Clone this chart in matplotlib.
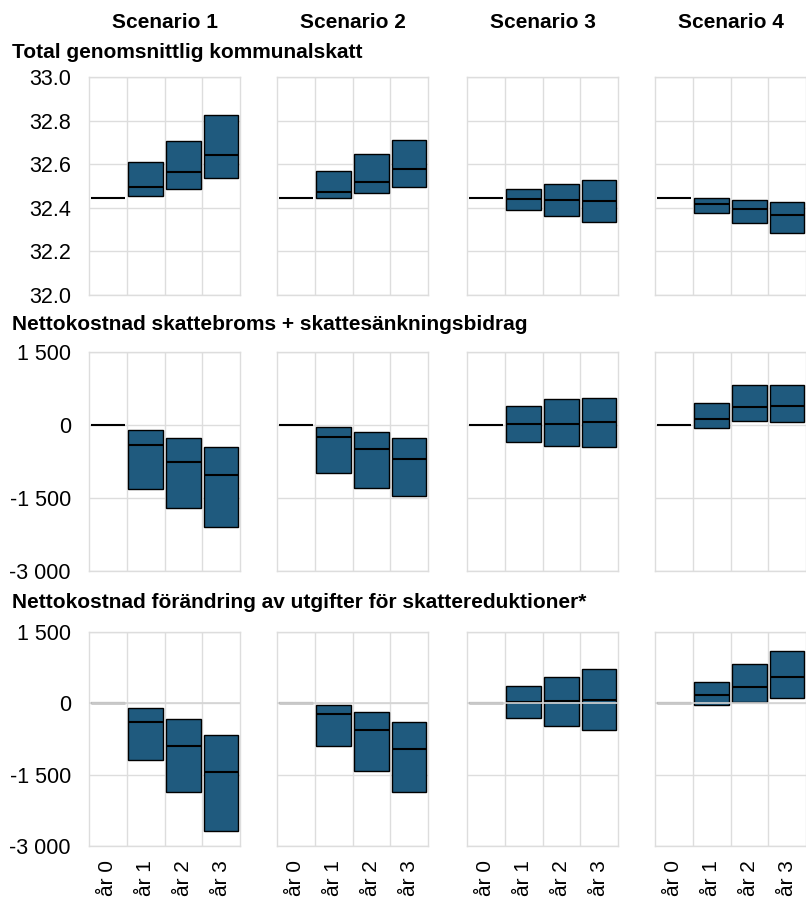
import numpy as np
import matplotlib
matplotlib.use("Agg")
import matplotlib.pyplot as plt

plt.rcParams['font.family'] = ['Liberation Sans', 'DejaVu Sans']

scenarios = ["Scenario 1", "Scenario 2", "Scenario 3", "Scenario 4"]
years = ["år 0", "år 1", "år 2", "år 3"]
row_titles = ["Total genomsnittlig kommunalskatt",
              "Nettokostnad skattebroms + skattesänkningsbidrag",
              "Nettokostnad förändring av utgifter för skattereduktioner*"]

# kommunalskatt: low / median / high per scenario, år 0..3
skatt_low = [[32.444, 32.455, 32.486, 32.535],
             [32.444, 32.447, 32.466, 32.495],
             [32.444, 32.390, 32.362, 32.333],
             [32.444, 32.378, 32.329, 32.286]]
skatt_med = [[32.444, 32.494, 32.564, 32.642],
             [32.444, 32.474, 32.518, 32.577],
             [32.444, 32.439, 32.436, 32.430],
             [32.444, 32.419, 32.393, 32.366]]
skatt_high = [[32.444, 32.610, 32.708, 32.826],
              [32.444, 32.569, 32.648, 32.709],
              [32.444, 32.488, 32.511, 32.526],
              [32.444, 32.447, 32.437, 32.428]]

# skattebroms + skattesänkningsbidrag
broms_low = [[0, -1315, -1705, -2089],
             [0, -993, -1288, -1452],
             [0, -356, -431, -452],
             [0, -68, 89, 55]]
broms_med = [[0, -418, -760, -1027],
             [0, -253, -486, -692],
             [0, 14, 27, 62],
             [0, 130, 363, 390]]
broms_high = [[0, -110, -267, -459],
              [0, -34, -137, -274],
              [0, 397, 527, 562],
              [0, 459, 815, 815]]

# skattereduktioner
red_low = [[0, -1189, -1856, -2684],
           [0, -894, -1420, -1870],
           [0, -318, -480, -571],
           [0, -37, 33, 103]]
red_med = [[0, -388, -887, -1448],
           [0, -227, -557, -964],
           [0, 19, 47, 75],
           [0, 166, 349, 552]]
red_high = [[0, -101, -325, -669],
            [0, -37, -185, -395],
            [0, 363, 545, 728],
            [0, 454, 819, 1093]]

rows = [(skatt_low, skatt_med, skatt_high),
        (broms_low, broms_med, broms_high),
        (red_low, red_med, red_high)]

ylims = [(32.0, 33.0), (-3000, 1500), (-3000, 1500)]
yticks = [[32.0, 32.2, 32.4, 32.6, 32.8, 33.0],
          [-3000, -1500, 0, 1500],
          [-3000, -1500, 0, 1500]]

BAR = '#1f5a7e'
GRID = '#dddddd'
W, H = 806, 898

col_x = [89, 277, 467, 655]
col_w = 151
row_y = [(77, 295), (352, 571), (632, 846)]
title_y = [52, 324, 603]

def fmt(v, r):
    if r == 0:
        return f"{v:.1f}"
    s = f"{abs(int(v)):,}".replace(",", " ")
    return ("-" if v < 0 else "") + s

fig = plt.figure(figsize=(W / 100, H / 100), dpi=100)

for r in range(3):
    lo, med, hi = rows[r]
    top, bot = row_y[r]
    for c in range(4):
        ax = fig.add_axes([col_x[c] / W, 1 - bot / H, col_w / W, (bot - top) / H])
        x = np.arange(4)
        l = np.array(lo[c], float)
        m = np.array(med[c], float)
        h = np.array(hi[c], float)
        ax.bar(x[1:], (h - l)[1:], bottom=l[1:], width=0.92, color=BAR,
               edgecolor='black', linewidth=1, zorder=3)
        ax.hlines(m, x - 0.46, x + 0.46, color='black', linewidth=1.5, zorder=4)
        if r == 2:
            # zero line drawn over the boxes in the last row
            ax.axhline(0, color='#d4d4d4', linewidth=1.2, zorder=5)
            ax.hlines(0, -0.46, 0.46, color='#c8c8c8', linewidth=2, zorder=5)
        ax.set_xlim(-0.5, 3.5)
        ax.set_ylim(*ylims[r])
        ax.set_yticks(yticks[r])
        ax.set_xticks(x)
        ax.set_xticks([0.5, 1.5, 2.5], minor=True)
        ax.grid(True, axis='y', color=GRID, linewidth=1, zorder=0)
        ax.grid(True, axis='x', which='minor', color=GRID, linewidth=1, zorder=0)
        ax.set_axisbelow(True)
        for sp in ax.spines.values():
            sp.set_color(GRID)
            sp.set_linewidth(1)
        ax.tick_params(which='both', length=0)
        ax.tick_params(axis='y', labelsize=15.5, pad=13)
        ax.tick_params(axis='x', labelsize=15, pad=10)
        if c == 0:
            ax.set_yticklabels([fmt(v, r) for v in yticks[r]])
        else:
            ax.set_yticklabels([])
        if r == 2:
            ax.set_xticklabels(years, rotation=90)
        else:
            ax.set_xticklabels([])
        if r == 0:
            fig.text((col_x[c] + col_w / 2) / W, 1 - 22 / H, scenarios[c],
                     ha='center', va='center', fontsize=15, fontweight='bold')
    fig.text(12 / W, 1 - title_y[r] / H, row_titles[r], ha='left', va='center',
             fontsize=15, fontweight='bold')

fig.savefig("out.png", dpi=100)
